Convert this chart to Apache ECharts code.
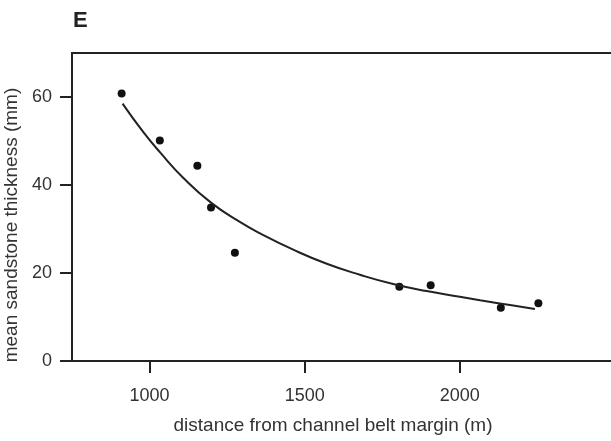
<!DOCTYPE html>
<html>
<head>
<meta charset="utf-8">
<script src="https://cdn.jsdelivr.net/npm/echarts@6/dist/echarts.min.js"></script>
<style>
  html, body { margin: 0; padding: 0; background: #fff; }
  #chart { width: 611px; height: 441px; }
</style>
</head>
<body>
<div id="chart"></div>
<script>
  // measured points
  var distance = [910, 1033, 1154, 1198, 1275, 1805, 1906, 2132, 2253];
  var thickness = [60.8, 50.1, 44.4, 34.9, 24.6, 16.9, 17.2, 12.1, 13.1];

  // fitted curve
  var curveX = [913, 980, 1034, 1109, 1198, 1291, 1356, 1463, 1571, 1678, 1785, 1893, 2000, 2065, 2172, 2242];
  var curveY = [58.5, 52.0, 47.4, 41.6, 36.0, 31.6, 29.0, 25.3, 22.1, 19.6, 17.5, 15.9, 14.6, 13.8, 12.6, 11.8];

  var xTicks = [1000, 1500, 2000];
  var yTicks = [0, 20, 40, 60];

  var ink = '#222';
  var fontFamily = '"Liberation Sans", Arial, sans-serif';

  var chart = echarts.init(document.getElementById('chart'));
  chart.setOption({
    animation: false,
    backgroundColor: '#fff',
    title: {
      text: 'E',
      left: 73,
      top: 10,
      padding: 0,
      textStyle: {fontFamily: fontFamily, fontSize: 22, fontWeight: 'bold', color: ink}
    },
    grid: {
      left: 72,
      top: 53,
      width: 543,
      height: 308,
      outerBoundsMode: 'none',
      containLabel: false,
      show: true,
      borderWidth: 2,
      borderColor: ink,
      backgroundColor: 'transparent'
    },
    xAxis: {
      type: 'value',
      min: 750,
      max: 2500,
      name: 'distance from channel belt margin (m)',
      nameLocation: 'middle',
      nameGap: 55,
      nameTextStyle: {fontFamily: fontFamily, fontSize: 19, color: '#333', padding: [0, 21, 0, 0]},
      axisLine: {lineStyle: {color: ink, width: 2}},
      axisTick: {show: true, length: 12, customValues: xTicks, lineStyle: {color: ink, width: 2}},
      axisLabel: {
        customValues: xTicks, margin: 26, fontFamily: fontFamily, fontSize: 18, color: '#333',
        formatter: function (v) { return String(v); }
      },
      splitLine: {show: false}
    },
    yAxis: {
      type: 'value',
      min: 0,
      max: 70,
      name: 'mean sandstone thickness (mm)',
      nameLocation: 'middle',
      nameGap: 38,
      nameTextStyle: {fontFamily: fontFamily, fontSize: 19, color: '#333', padding: [0, 36, 0, 0]},
      axisLine: {show: true, lineStyle: {color: ink, width: 2}},
      axisTick: {show: true, length: 12, customValues: yTicks, lineStyle: {color: ink, width: 2}},
      axisLabel: {customValues: yTicks, margin: 20, fontFamily: fontFamily, fontSize: 18, color: '#333'},
      splitLine: {show: false}
    },
    series: [
      {
        type: 'line',
        data: curveX.map(function (x, i) { return [x, curveY[i]]; }),
        smooth: 0.5,
        showSymbol: false,
        lineStyle: {color: ink, width: 2}
      },
      {
        type: 'scatter',
        data: distance.map(function (x, i) { return [x, thickness[i]]; }),
        symbolSize: 8,
        itemStyle: {color: '#111', opacity: 1}
      }
    ]
  });
</script>
</body>
</html>
